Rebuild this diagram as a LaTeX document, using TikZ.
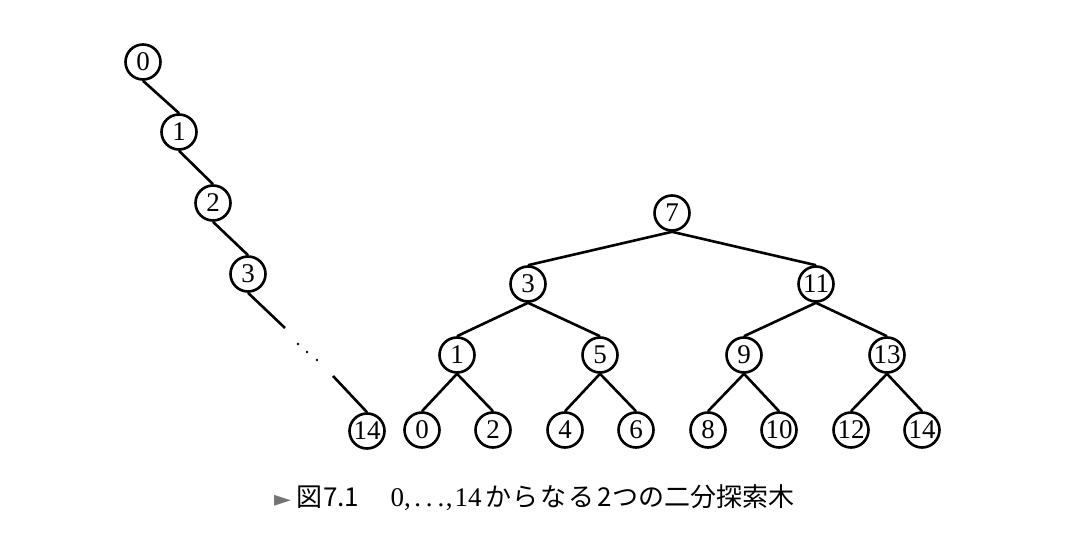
\documentclass[tikz,border=0pt]{standalone}
\usepackage{fontspec}
\setmainfont{Liberation Serif}
\newfontfamily\jpfont{Noto Sans CJK JP}
\newfontfamily\dvfont{DejaVu Sans}
\begin{document}
\begin{tikzpicture}[x=1pt,y=-1pt,
  v/.style={circle,draw,line width=2.6pt,minimum size=35pt,inner sep=0pt,font=\fontsize{27}{30}\selectfont},
  e/.style={line width=2.6pt}]
\useasboundingbox (0,0) rectangle (1076,553);
% left chain
\node[v] (a0) at (143,62) {0};
\node[v] (a1) at (179,132) {1};
\node[v] (a2) at (213,203) {2};
\node[v] (a3) at (248,274) {3};
\node[v] (a14) at (367,431) {14};
\coordinate (c1) at (285,328);
\coordinate (c2) at (333,376);
\draw[e] (a0.south) -- (a1.north);
\draw[e] (a1.south) -- (a2.north);
\draw[e] (a2.south) -- (a3.north);
\draw[e] (a3.south) -- (c1);
\draw[e] (c2) -- (a14.north);
\foreach \p in {(298,344),(307,352),(317,360)} \fill \p circle (1.4pt);
% right tree
\node[v] (r7) at (672,213) {7};
\node[v] (r3) at (528,284) {3};
\node[v] (r11) at (816,284) {11};
\node[v] (r1) at (457,355) {1};
\node[v] (r5) at (600,355) {5};
\node[v] (r9) at (744,355) {9};
\node[v] (r13) at (887,355) {13};
\node[v] (l0) at (422,430) {0};
\node[v] (l2) at (493,430) {2};
\node[v] (l4) at (565,430) {4};
\node[v] (l6) at (636,430) {6};
\node[v] (l8) at (708,430) {8};
\node[v] (l10) at (779,430) {10};
\node[v] (l12) at (851,430) {12};
\node[v] (l14) at (922,430) {14};
\foreach \p/\c in {r7/r3,r7/r11,r3/r1,r3/r5,r11/r9,r11/r13,r1/l0,r1/l2,r5/l4,r5/l6,r9/l8,r9/l10,r13/l12,r13/l14}
  \draw[e] (\p.south) -- (\c.north);
% caption
\node[anchor=base west,inner sep=0pt,font=\fontsize{26}{30}\selectfont] (cap) at (274,506)
  {\makebox[22.5pt][l]{\dvfont\fontsize{22}{26}\selectfont\textcolor{black!55}{►}}%
   \makebox[26.5pt][l]{\jpfont 図}%
   \makebox[67.5pt][l]{\jpfont 7.1}%
   \makebox[94.5pt][l]{\fontsize{27}{30}\selectfont 0,\kern3.5pt.\kern4.8pt.\kern4.8pt.\kern1.5pt,\kern2pt14}%
   \makebox[112pt][l]{\jpfont か\kern1.8ptら\kern1.8ptな\kern1.8ptる}%
   \makebox[15pt][l]{\jpfont 2}%
   {\jpfont つの二分探索木}};
\end{tikzpicture}
\end{document}
